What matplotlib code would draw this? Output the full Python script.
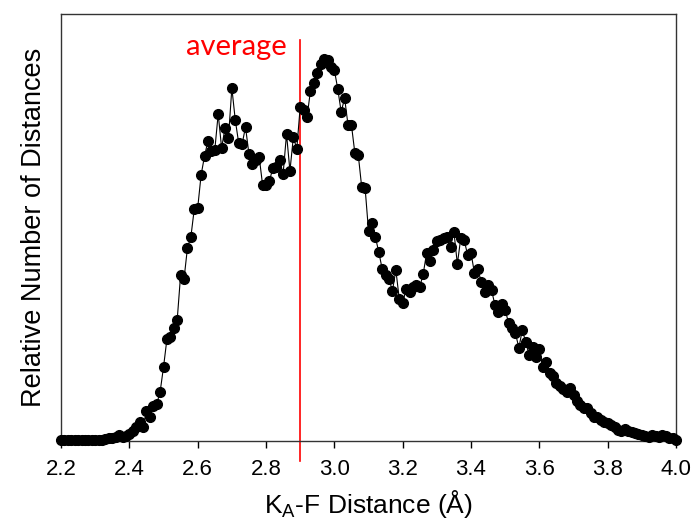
import numpy as np
import matplotlib
matplotlib.use("Agg")
import matplotlib.pyplot as plt

# K_A-F distances, 0.01 A steps from 2.20 to 4.00
distance = np.round(np.arange(2.20, 4.0001, 0.01), 2)

# relative counts (arbitrary units)
counts = [
    1, 1, 1, 1, 1, 1, 1, 1, 1, 1,
    1, 1, 1, 2, 3, 3, 4, 6, 4, 5,
    7, 10, 14, 19, 14, 30, 24, 35, 37, 49,
    74, 102, 104, 113, 121, 166, 162, 193, 204, 232,
    233, 266, 285, 300, 290, 291, 327, 293, 313, 303,
    353, 321, 298, 297, 314, 287, 277, 281, 284, 256,
    256, 260, 273, 274, 281, 267, 307, 270, 304, 292,
    334, 331, 324, 350, 358, 368, 377, 382, 381, 374,
    371, 352, 329, 343, 316, 316, 288, 286, 254, 253,
    210, 218, 204, 189, 172, 166, 162, 150, 171, 142,
    138, 152, 149, 154, 156, 154, 167, 188, 180, 191,
    200, 201, 203, 204, 194, 209, 177, 203, 201, 186,
    188, 168, 172, 159, 149, 156, 151, 136, 129, 137,
    131, 118, 113, 108, 93, 111, 99, 86, 94, 84,
    92, 74, 79, 68, 65, 58, 55, 52, 49, 53,
    46, 40, 36, 33, 33, 28, 24, 24, 21, 19,
    18, 16, 14, 11, 10, 12, 10, 9, 8, 7,
    6, 5, 4, 6, 5, 4, 6, 5, 3, 3,
    1,
]

average = 2.90
xticks = [2.2, 2.4, 2.6, 2.8, 3.0, 3.2, 3.4, 3.6, 3.8, 4.0]

plt.rcParams['font.family'] = ['Liberation Sans', 'DejaVu Sans']

fig = plt.figure(figsize=(6.95, 5.27), dpi=100)
ax = fig.add_axes([0.0878, 0.1632, 0.8849, 0.8102])

ax.plot(distance, counts, color='black', lw=0.8, marker='o', ms=7,
        mfc='black', mec='black', clip_on=False, zorder=3)

ax.axvline(average, ymin=-0.047, ymax=0.939, color='red', lw=1.2,
           clip_on=False, zorder=2)
ax.text(average - 0.038, 386, 'average', color='red', ha='right',
        va='baseline', fontsize=21, family=['Lato', 'DejaVu Sans'])

ax.set_xlim(2.2, 4.0)
ax.set_ylim(0, 427)
ax.set_xticks(xticks)
ax.set_xticklabels([f'{t:.1f}' for t in xticks])
ax.set_yticks([])
ax.tick_params(axis='x', direction='out', length=5, width=1, labelsize=16, pad=8)

for s in ax.spines.values():
    s.set_linewidth(1.0)
    s.set_color('#333333')

ax.set_xlabel(r'K$_\mathregular{A}$-F Distance (Å)', fontsize=19, labelpad=6)
ax.set_ylabel('Relative Number of Distances', fontsize=19.5, labelpad=10)

fig.savefig('out.png', dpi=100)
